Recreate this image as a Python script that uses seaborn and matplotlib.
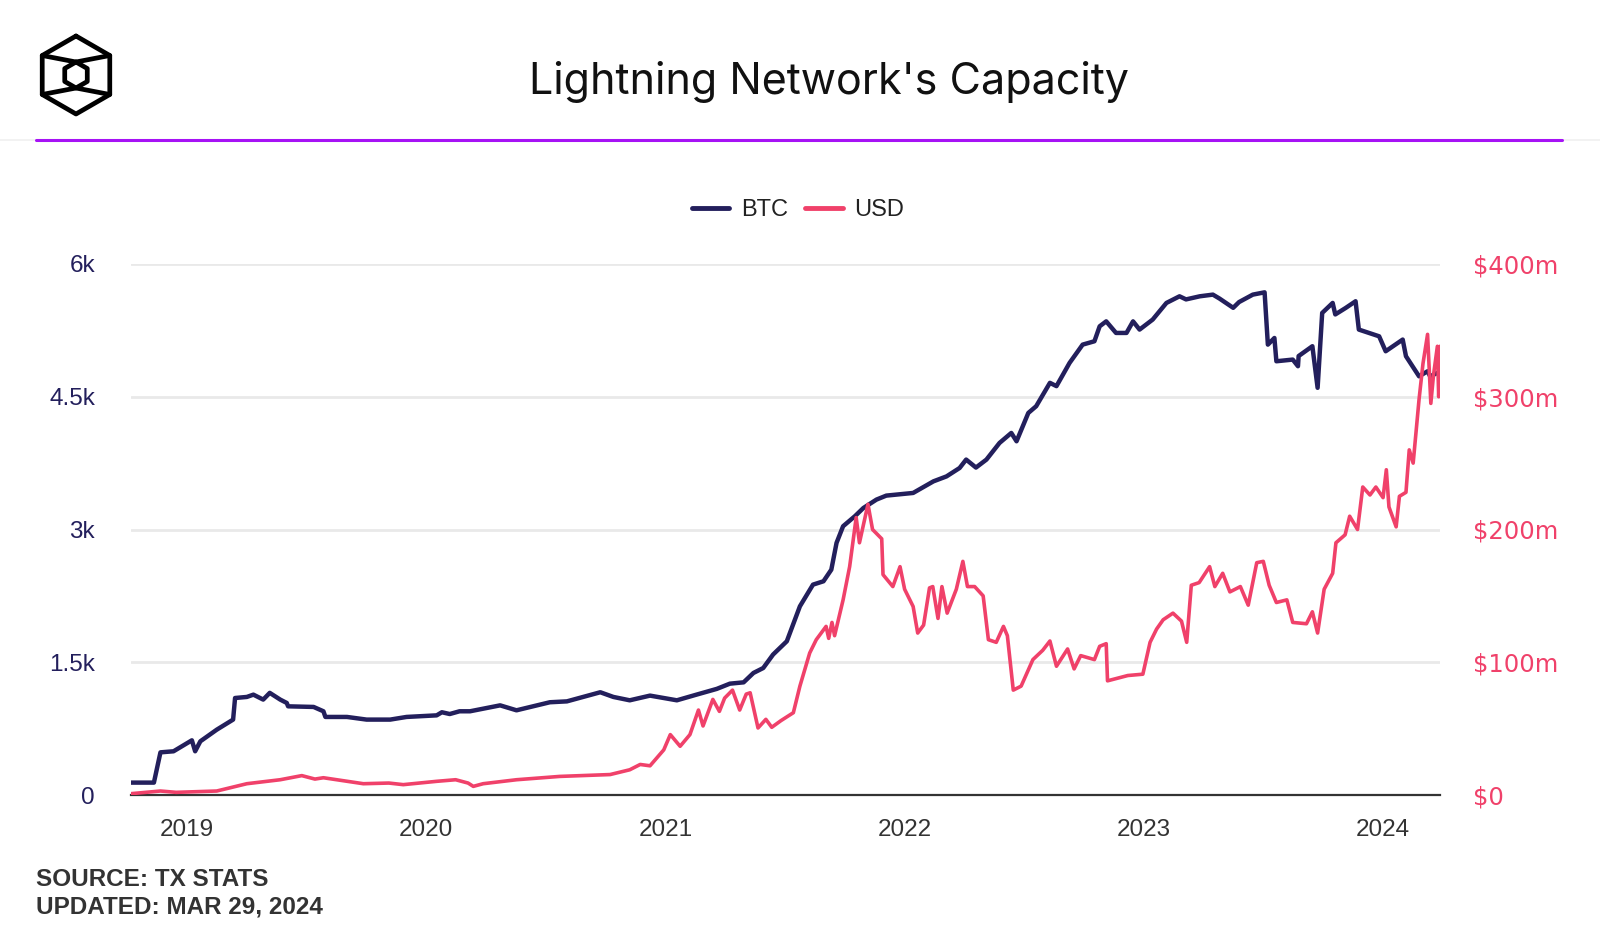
import numpy as np
import pandas as pd
import matplotlib
matplotlib.use("Agg")
import matplotlib.pyplot as plt
import matplotlib.dates as mdates
from matplotlib.lines import Line2D
import seaborn as sns

# Lightning network capacity
btc_dates = [
    "2018-10-07", "2018-11-11", "2018-11-21", "2018-12-11", "2019-01-08", "2019-01-13",
    "2019-01-21", "2019-02-15", "2019-03-12", "2019-03-15", "2019-04-02", "2019-04-12",
    "2019-04-27", "2019-05-07", "2019-05-23", "2019-06-02", "2019-06-04", "2019-07-13",
    "2019-07-28", "2019-07-31", "2019-09-02", "2019-10-02", "2019-11-07", "2019-12-02",
    "2020-01-17", "2020-01-25", "2020-02-06", "2020-02-21", "2020-03-08", "2020-04-23",
    "2020-05-18", "2020-07-08", "2020-08-03", "2020-09-23", "2020-10-13", "2020-11-07",
    "2020-12-08", "2021-01-18", "2021-02-17", "2021-03-20", "2021-04-09", "2021-04-30",
    "2021-05-15", "2021-05-30", "2021-06-14", "2021-07-05", "2021-07-25", "2021-08-14",
    "2021-08-30", "2021-09-11", "2021-09-19", "2021-09-29", "2021-10-17", "2021-10-30",
    "2021-11-19", "2021-12-04", "2022-01-14", "2022-02-14", "2022-03-06", "2022-03-26",
    "2022-04-05", "2022-04-20", "2022-05-06", "2022-05-26", "2022-06-13", "2022-06-21",
    "2022-07-09", "2022-07-21", "2022-08-11", "2022-08-21", "2022-09-10", "2022-09-30",
    "2022-10-18", "2022-10-26", "2022-11-05", "2022-11-20", "2022-12-06", "2022-12-16",
    "2022-12-26", "2023-01-15", "2023-02-05", "2023-02-25", "2023-03-07", "2023-03-28",
    "2023-04-17", "2023-04-27", "2023-05-18", "2023-05-27", "2023-06-17", "2023-07-05",
    "2023-07-10", "2023-07-20", "2023-07-23", "2023-08-17", "2023-08-25", "2023-08-26",
    "2023-09-16", "2023-09-24", "2023-10-01", "2023-10-17", "2023-10-21", "2023-11-06",
    "2023-11-21", "2023-11-26", "2023-12-27", "2024-01-06", "2024-02-01", "2024-02-06",
    "2024-02-26", "2024-03-10", "2024-03-14", "2024-03-25", "2024-03-29",
]
btc_capacity = [
    140, 140, 482, 494, 618, 494,
    607, 738, 852, 1096, 1108, 1134,
    1078, 1154, 1078, 1040, 1002, 995,
    946, 882, 882, 852, 852, 882,
    900, 935, 915, 946, 946, 1013,
    957, 1048, 1058, 1161, 1108, 1070,
    1123, 1070, 1134, 1199, 1258, 1273,
    1379, 1435, 1587, 1737, 2132, 2377,
    2415, 2546, 2849, 3037, 3150, 3243,
    3338, 3383, 3413, 3544, 3600, 3695,
    3790, 3700, 3790, 3978, 4091, 3997,
    4317, 4393, 4657, 4620, 4882, 5089,
    5127, 5296, 5352, 5221, 5221, 5352,
    5259, 5372, 5560, 5635, 5600, 5635,
    5654, 5610, 5505, 5570, 5654, 5680,
    5089, 5164, 4901, 4920, 4845, 4960,
    5071, 4601, 5447, 5560, 5430, 5504,
    5579, 5259, 5183, 5014, 5146, 4958,
    4731, 4788, 4730, 4770, 4780,
]

usd_dates = [
    "2018-10-07", "2018-11-21", "2018-12-15", "2019-02-15", "2019-04-02", "2019-05-23",
    "2019-06-25", "2019-07-15", "2019-07-28", "2019-09-27", "2019-11-05", "2019-11-27",
    "2020-01-17", "2020-02-15", "2020-03-05", "2020-03-13", "2020-03-28", "2020-05-18",
    "2020-07-23", "2020-10-08", "2020-11-07", "2020-11-23", "2020-12-08", "2020-12-29",
    "2021-01-08", "2021-01-23", "2021-02-07", "2021-02-20", "2021-02-27", "2021-03-14",
    "2021-03-24", "2021-04-01", "2021-04-13", "2021-04-24", "2021-05-04", "2021-05-10",
    "2021-05-22", "2021-06-03", "2021-06-12", "2021-06-26", "2021-07-15", "2021-07-25",
    "2021-08-09", "2021-08-19", "2021-09-03", "2021-09-07", "2021-09-12", "2021-09-16",
    "2021-09-29", "2021-10-09", "2021-10-19", "2021-10-24", "2021-11-06", "2021-11-13",
    "2021-11-27", "2021-11-29", "2021-12-14", "2021-12-25", "2022-01-01", "2022-01-14",
    "2022-01-21", "2022-01-30", "2022-02-08", "2022-02-13", "2022-02-21", "2022-02-27",
    "2022-03-07", "2022-03-21", "2022-03-31", "2022-04-07", "2022-04-18", "2022-05-01",
    "2022-05-09", "2022-05-21", "2022-06-01", "2022-06-07", "2022-06-16", "2022-06-28",
    "2022-07-16", "2022-07-31", "2022-08-11", "2022-08-21", "2022-09-07", "2022-09-17",
    "2022-09-27", "2022-10-18", "2022-10-26", "2022-11-05", "2022-11-07", "2022-12-08",
    "2022-12-31", "2023-01-11", "2023-01-21", "2023-01-31", "2023-02-15", "2023-02-28",
    "2023-03-08", "2023-03-15", "2023-03-27", "2023-04-12", "2023-04-20", "2023-05-02",
    "2023-05-13", "2023-05-29", "2023-06-10", "2023-06-23", "2023-07-03", "2023-07-12",
    "2023-07-23", "2023-08-08", "2023-08-17", "2023-09-07", "2023-09-16", "2023-09-24",
    "2023-10-04", "2023-10-17", "2023-10-22", "2023-11-05", "2023-11-12", "2023-11-24",
    "2023-12-02", "2023-12-13", "2023-12-22", "2024-01-02", "2024-01-07", "2024-01-11",
    "2024-01-22", "2024-01-27", "2024-02-06", "2024-02-11", "2024-02-17", "2024-02-26",
    "2024-03-03", "2024-03-10", "2024-03-15", "2024-03-19", "2024-03-25", "2024-03-27",
    "2024-03-29",
]
usd_capacity_m = [
    1, 3, 2, 3, 8.5, 11.5,
    14.6, 12, 13, 8.5, 9, 7.8,
    10.3, 11.5, 9, 6.5, 8.5, 11.5,
    14, 15.4, 19, 23, 22, 34,
    45.5, 36.7, 45.5, 64, 52, 72,
    63, 73, 79, 64, 76, 77,
    50.5, 57, 51, 56, 62, 82,
    107, 117, 127, 118, 130, 120,
    147, 172, 209, 190, 219, 200,
    193, 166, 157, 172, 155, 142,
    122, 128, 156, 157, 133, 157,
    137, 155, 176, 157, 157, 150,
    117, 115, 127, 120, 79, 82,
    102, 109, 116, 97, 110, 95,
    105, 102, 112, 114, 86, 90,
    91, 115, 125, 132, 137, 131,
    115, 158, 160, 172, 157, 167,
    153, 157, 143, 175, 176, 158,
    145, 147, 130, 129, 138, 122,
    155, 167, 190, 196, 210, 200,
    232, 226, 232, 224, 245, 217,
    202, 225, 228, 260, 250, 298,
    325, 347, 295, 316, 338, 300,
    338,
]

btc_ticks = [0, 1500, 3000, 4500, 6000]
btc_tick_labels = ["0", "1.5k", "3k", "4.5k", "6k"]
usd_ticks = [0, 100, 200, 300, 400]
usd_tick_labels = ["$0", "$100m", "$200m", "$300m", "$400m"]

BTC_COLOR = "#231f5c"
USD_COLOR = "#f0416a"

btc_df = pd.DataFrame({"date": pd.to_datetime(btc_dates), "capacity": btc_capacity})
usd_df = pd.DataFrame({"date": pd.to_datetime(usd_dates), "capacity": usd_capacity_m})

sns.set_theme(style="white")
plt.rcParams["font.family"] = ["Liberation Sans", "DejaVu Sans"]

W, H = 1600, 933
fig = plt.figure(figsize=(16, 9.33), dpi=100)

ax = fig.add_axes([131 / W, 1 - 795 / H, (1440 - 131) / W, (795 - 264) / H])
sns.lineplot(data=btc_df, x="date", y="capacity", ax=ax, color=BTC_COLOR, linewidth=3.2, legend=False)
ax2 = ax.twinx()
sns.lineplot(data=usd_df, x="date", y="capacity", ax=ax2, color=USD_COLOR, linewidth=2.6, legend=False)

ax.set_xlim(pd.Timestamp("2018-10-07"), pd.Timestamp("2024-03-29"))
ax.set_ylim(0, 6000)
ax2.set_ylim(0, 400)

ax.set_yticks(btc_ticks)
ax.set_yticklabels(btc_tick_labels, color=BTC_COLOR, fontsize=17.5)
ax2.set_yticks(usd_ticks)
ax2.set_yticklabels(usd_tick_labels, color=USD_COLOR, fontsize=17.5, family="DejaVu Sans")

ax.xaxis.set_major_locator(mdates.YearLocator())
ax.xaxis.set_major_formatter(mdates.DateFormatter("%Y"))
ax.tick_params(axis="x", length=0, pad=17, labelsize=17.5, labelcolor="#333333")
ax.tick_params(axis="y", length=0, pad=26)
ax2.tick_params(axis="y", length=0, pad=24)
ax.set_xlabel("")
ax.set_ylabel("")
ax2.set_ylabel("")

ax.grid(axis="y", color="#e9e9e9", linewidth=2)
ax.grid(axis="x", visible=False)
ax2.grid(False)
for a in (ax, ax2):
    for s in ("top", "left", "right"):
        a.spines[s].set_visible(False)
ax2.spines["bottom"].set_visible(False)
ax.spines["bottom"].set_color("#333333")
ax.spines["bottom"].set_linewidth(1.6)

# legend
handles = [Line2D([0], [0], color=BTC_COLOR, lw=3.5, solid_capstyle="round"),
           Line2D([0], [0], color=USD_COLOR, lw=3.5, solid_capstyle="round")]
fig.legend(handles, ["BTC", "USD"], loc="center", bbox_to_anchor=(798 / W, 1 - 210 / H),
           ncol=2, frameon=False, fontsize=17, handlelength=1.6, handletextpad=0.5,
           columnspacing=0.7, labelcolor="#222222")

# header
fig.text(829 / W, 1 - 94 / H, "Lightning Network's Capacity", ha="center", va="baseline",
         fontsize=31, color="#111111", family=["Inter", "DejaVu Sans"])
fig.add_artist(Line2D([0, 1], [1 - 140 / H] * 2, color="#f0f0f0", lw=1.2))
fig.add_artist(Line2D([36 / W, 1562 / W], [1 - 140 / H] * 2, color="#a612f5", lw=2.2))

# logo: hexagon with inner hexagon
logo = fig.add_axes([0, 1 - 150 / H, 150 / W, 150 / H])
logo.set_xlim(0, 150)
logo.set_ylim(150, 0)
logo.axis("off")
cx, cy, r, ri = 76, 75, 39, 13
ang = np.deg2rad(np.arange(-90, 271, 60))
ox, oy = cx + r * np.cos(ang), cy + r * np.sin(ang)
ix, iy = cx + ri * np.cos(ang), cy + ri * np.sin(ang)
lk = dict(color="black", lw=3.4, solid_joinstyle="round", solid_capstyle="round")
logo.plot(ox, oy, **lk)
logo.plot(ix, iy, **lk)
logo.plot([ox[5], ix[0], ox[1]], [oy[5], iy[0], oy[1]], **lk)
logo.plot([ox[4], ix[3], ox[2]], [oy[4], iy[3], oy[2]], **lk)

# footer
fig.text(36 / W, 1 - 880 / H, "SOURCE: TX STATS", ha="left", va="center",
         fontsize=17.5, fontweight="bold", color="#333333")
fig.text(36 / W, 1 - 907 / H, "UPDATED: MAR 29, 2024", ha="left", va="center",
         fontsize=17.5, fontweight="bold", color="#333333")

fig.savefig("out.png", dpi=100, facecolor="white")
